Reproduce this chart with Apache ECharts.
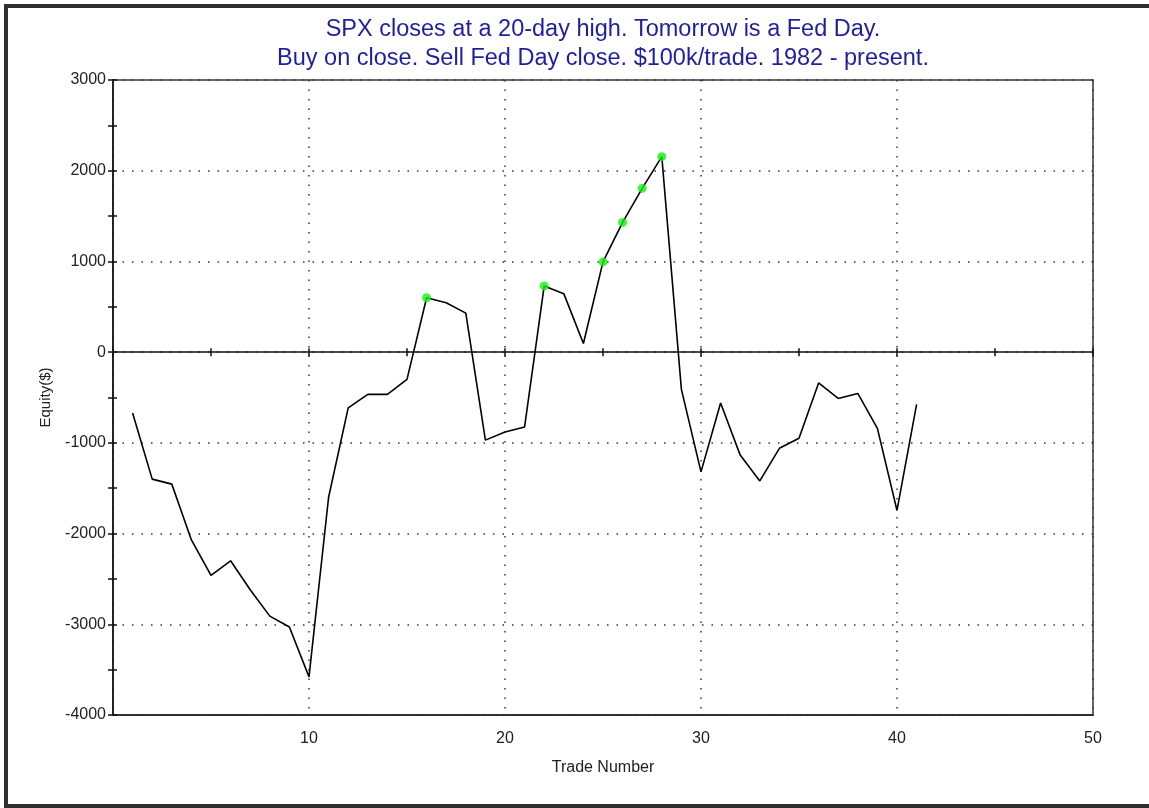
<!DOCTYPE html>
<html>
<head>
<meta charset="utf-8">
<script src="https://cdn.jsdelivr.net/npm/echarts@6/dist/echarts.min.js"></script>
<style>
    html, body {
        margin: 0;
        padding: 0;
        background: #fff;
        overflow: hidden;
    }
    #frame {
        position: absolute;
        left: 4px;
        top: 4px;
        width: 1160px;
        height: 796px;
        border: 4px solid #2e2e2e;
    }
    #main {
        position: absolute;
        left: 0;
        top: 0;
        width: 1149px;
        height: 808px;
    }
</style>
</head>
<body>
<div id="frame"></div>
<div id="main"></div>
<script>
    // equity after each trade
    var tradeNo = [];
    for (var i = 1; i <= 41; i++) tradeNo.push(i);
    var equity = [
        -670, -1400, -1455, -2070, -2460, -2300, -2620, -2910, -3030, -3580,
        -1600, -615, -465, -465, -300, 600, 545, 430, -970, -880,
        -825, 730, 645, 95, 995, 1430, 1805, 2155, -410, -1320,
        -560, -1135, -1420, -1060, -950, -340, -510, -455, -840, -1745,
        -575
    ];
    var yTicks = [3000, 2000, 1000, 0, -1000, -2000, -3000, -4000];
    var xTicks = [10, 20, 30, 40, 50];

    var lineData = tradeNo.map(function (n, i) { return [n, equity[i]]; });

    // new equity highs (above zero) get a green dot
    var highs = [];
    var best = 0;
    equity.forEach(function (v, i) {
        if (v > best) {
            best = v;
            highs.push([tradeNo[i], v]);
        }
    });

    var gridH = 635;
    var zeroOffset = -gridH * (0 - yTicks[yTicks.length - 1]) / (yTicks[0] - yTicks[yTicks.length - 1]);

    var chart = echarts.init(document.getElementById('main'));
    var font = 'Liberation Sans, Arial, sans-serif';

    chart.setOption({
        animation: false,
        title: {
            text: 'SPX closes at a 20-day high. Tomorrow is a Fed Day.\nBuy on close. Sell Fed Day close. $100k/trade. 1982 - present.',
            left: 603,
            top: 15,
            padding: 0,
            textAlign: 'center',
            textStyle: {
                fontFamily: font,
                fontSize: 23.5,
                fontWeight: 'normal',
                color: '#1f1f9e',
                lineHeight: 29
            }
        },
        grid: {
            left: 113,
            top: 80,
            right: 56,
            height: gridH,
            show: true,
            borderColor: '#333',
            borderWidth: 1.5,
            backgroundColor: '#fff'
        },
        xAxis: [
            {
                type: 'value',
                min: 0,
                max: 50,
                interval: 10,
                position: 'bottom',
                name: 'Trade Number',
                nameLocation: 'middle',
                nameGap: 45,
                nameTextStyle: { fontFamily: font, fontSize: 16, color: '#222' },
                axisLine: { onZero: false, lineStyle: { color: '#222', width: 1.5 } },
                axisTick: { show: false },
                axisLabel: {
                    margin: 16,
                    fontFamily: font,
                    fontSize: 16,
                    color: '#222',
                    customValues: xTicks
                },
                splitLine: {
                    show: true,
                    lineStyle: { color: '#333', width: 1.5, type: [1.5, 8] }
                }
            },
            {
                type: 'value',
                min: 0,
                max: 50,
                interval: 5,
                position: 'bottom',
                offset: zeroOffset,
                axisLine: { onZero: false, lineStyle: { color: '#111', width: 1.5 } },
                axisTick: { inside: false, length: 4, lineStyle: { color: '#111', width: 1.5 } },
                axisLabel: { show: false },
                splitLine: { show: false }
            },
            {
                type: 'value',
                min: 0,
                max: 50,
                interval: 5,
                position: 'bottom',
                offset: zeroOffset,
                axisLine: { show: false, onZero: false },
                axisTick: { inside: true, length: 4, lineStyle: { color: '#111', width: 1.5 } },
                axisLabel: { show: false },
                splitLine: { show: false }
            }
        ],
        yAxis: [
            {
                type: 'value',
                min: -4000,
                max: 3000,
                interval: 1000,
                position: 'left',
                name: 'Equity($)',
                nameLocation: 'middle',
                nameGap: 60,
                nameTextStyle: { fontFamily: font, fontSize: 15, color: '#222' },
                axisLine: { show: true, onZero: false, lineStyle: { color: '#111', width: 1.5 } },
                axisTick: { show: true, length: 5, lineStyle: { color: '#111', width: 1.5 } },
                minorTick: { show: true, splitNumber: 2, length: 5, lineStyle: { color: '#111', width: 1.5 } },
                axisLabel: {
                    margin: 7,
                    fontFamily: font,
                    fontSize: 16,
                    color: '#222',
                    formatter: function (v) { return String(v); }
                },
                splitLine: {
                    show: true,
                    lineStyle: { color: '#333', width: 1.5, type: [1.5, 8] }
                }
            },
            {
                type: 'value',
                min: -4000,
                max: 3000,
                interval: 500,
                position: 'left',
                axisLine: { show: false, onZero: false },
                axisTick: { show: true, inside: true, length: 4, lineStyle: { color: '#111', width: 1.5 } },
                axisLabel: { show: false },
                splitLine: { show: false }
            }
        ],
        series: [
            {
                name: 'Equity',
                type: 'line',
                xAxisIndex: 0,
                yAxisIndex: 0,
                data: lineData,
                showSymbol: false,
                lineStyle: { color: '#000', width: 1.6 },
                z: 3
            },
            {
                name: 'New high',
                type: 'scatter',
                xAxisIndex: 0,
                yAxisIndex: 0,
                data: highs,
                symbol: 'circle',
                symbolSize: 9,
                itemStyle: { color: '#14f014' },
                z: 4
            }
        ]
    });
</script>
</body>
</html>
